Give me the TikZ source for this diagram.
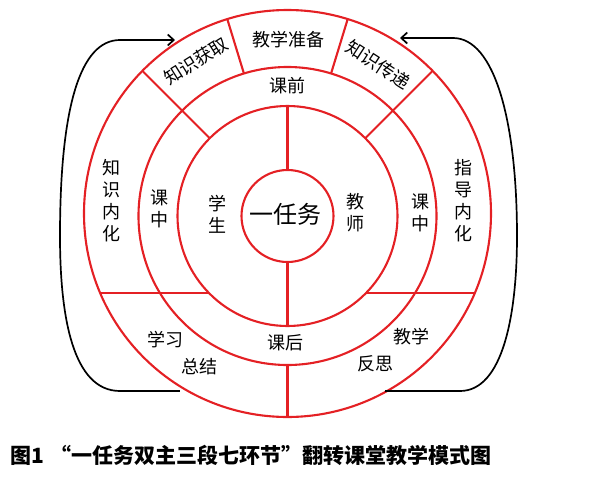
\documentclass[tikz,border=0pt]{standalone}
\usepackage{fontspec}
\newfontfamily\cjk{Noto Sans CJK SC}
\usetikzlibrary{positioning}
\usetikzlibrary{arrows.meta}
\definecolor{ringred}{RGB}{228,32,36}
\begin{document}
\begin{tikzpicture}[x=1pt ,y=1pt ,node distance =26pt and 34pt ,on grid ,
    ring/.style ={ringred ,line width =2.1pt},
    word/.style ={font=\cjk\fontsize{18}{22}\selectfont ,align=center ,inner sep=0pt},
    back/.style ={-{Straight Barb[length=6pt,width=11pt]} ,line width =1.7pt ,black}]
    \useasboundingbox (-287.5,-267) rectangle (312.5,216);
    \draw[ring] (0,0) circle (46pt) (0,0) circle (110pt) (0,0) circle (149pt) (0,2.5) circle (203.5pt);
    \draw[ring] (0,46) -- (0,110) (0,-46) -- (0,-110) (0,-149) -- (0,-201);
    \draw[ring] (45:110pt) -- (45:205.3pt) (135:110pt) -- (135:205.3pt);
    \draw[ring] (73:149pt) -- (73:205.9pt) (107:149pt) -- (107:205.9pt);
    \draw[ring] (-78.6,-77) -- (-187.3,-77) (78.6,-77) -- (187.3,-77);
    \node[word ,font=\cjk\fontsize{24}{28}\selectfont] (T) at (-2,2) {一任务};
    \node[word] (S) at (-69.5,1.5) {学\\生};
    \node[word] (J) at (68.5,3.5) {教\\师};
    \node[word] (M1) at (-127.5,7) {课\\中};
    \node[word] (M2) at (132.5,3.5) {课\\中};
    \node[word] (K1) at (-175.5,15) {知\\识\\内\\化};
    \node[word] (K2) at (175.5,15.5) {指\\导\\内\\化};
    \node[word] (Q) at (0,130) {课前};
    \node[word] (P) at (1,176) {教学准备};
    \node[word ,rotate=32] (G) at (-91.5,155) {知识获取};
    \node[word ,rotate=-33] (D) at (91,151.5) {知识传递};
    \node[word] (H) at (-1.5,-127) {课后};
    \node[word] (X) at (-122,-124) {学习};
    \node[word] (Z) [below right =26.5pt and 34pt of X] {总结};
    \node[word] (R) at (124,-120.5) {教学};
    \node[word] (F) [below left =27pt and 36pt of R] {反思};
    \node[font=\cjk\bfseries\fontsize{21}{24}\selectfont ,anchor=west ,inner sep=0pt] (C) at (-277.5,-239)
      {图1\hspace{0.3em}“一任务双主三段七环节”翻转课堂教学模式图};
    \coordinate (LA) at (-107.5,-175);
    \coordinate (LB) at (-112.5,176);
    \coordinate (RA) at (97.5,-175);
    \coordinate (RB) at (112.5,178);
    \draw[back] (LA) -- (-167.5,-175) .. controls (-215,-175) and (-227.5,-100) .. (-227.5,-20)
      .. controls (-227.5,110) and (-207,176) .. (-167.5,176) -- (LB);
    \draw[back] (RA) -- (172.5,-175) .. controls (215,-175) and (229.5,-100) .. (229.5,-20)
      .. controls (229.5,95) and (207,178) .. (165.5,178) -- (RB);
\end{tikzpicture}
\end{document}
